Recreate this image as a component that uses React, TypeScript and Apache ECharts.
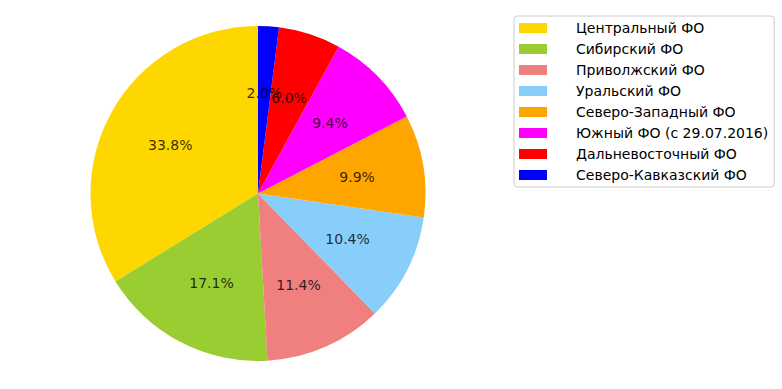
import React, { useEffect, useRef } from "react";
import * as echarts from "echarts";

const regions = [
  "Центральный ФО",
  "Сибирский ФО",
  "Приволжский ФО",
  "Уральский ФО",
  "Северо-Западный ФО",
  "Южный ФО (с 29.07.2016)",
  "Дальневосточный ФО",
  "Северо-Кавказский ФО",
];
const shares = [33.8, 17.1, 11.4, 10.4, 9.9, 9.4, 6.0, 2.0];
const colors = ["#FFD700", "#9ACD32", "#F08080", "#87CEFA", "#FFA500", "#FF00FF", "#FF0000", "#0000FF"];

const FONT = "DejaVu Sans";

export default function App() {
  const ref = useRef<HTMLDivElement>(null);
  useEffect(() => {
    if (!ref.current) return;
    const chart = echarts.init(ref.current, undefined, { renderer: "svg" });
    const data = regions.map((name, i) => ({ name, value: shares[i], itemStyle: { color: colors[i] } }));
    const center = [258, 193.5];
    const R = 167.5;
    const total = shares.reduce((a, b) => a + b, 0);
    let acc = 0;
    const labelPoints = shares.map((v) => {
      const mid = acc + v / 2;
      acc += v;
      return { value: [0.6, (mid / total) * 100], share: v };
    });
    chart.setOption({
      animation: false,
      backgroundColor: "#ffffff",
      polar: { center, radius: [0, R] },
      angleAxis: {
        type: "value",
        min: 0,
        max: 100,
        startAngle: 90,
        clockwise: false,
        show: false,
      },
      radiusAxis: { type: "value", min: 0, max: 1, show: false },
      legend: {
        orient: "vertical",
        left: 514,
        top: 16,
        padding: [5, 6, 5, 5],
        itemGap: 7,
        itemWidth: 28,
        itemHeight: 10,
        icon: "rect",
        borderColor: "#cccccc",
        borderWidth: 1,
        borderRadius: 3,
        selectedMode: false,
        textStyle: {
          fontFamily: FONT,
          fontSize: 14,
          lineHeight: 14,
          color: "#000000",
          padding: [0, 0, 0, 24],
        },
        data: regions.map((name, i) => ({ name, itemStyle: { color: colors[i] } })),
      },
      series: [
        {
          type: "pie",
          center,
          radius: [0, R],
          startAngle: 90,
          clockwise: false,
          data,
          label: { show: false },
          labelLine: { show: false },
          itemStyle: { borderWidth: 0 },
          emphasis: { disabled: true },
          silent: true,
        },
        {
          type: "scatter",
          coordinateSystem: "polar",
          symbolSize: 0,
          data: labelPoints,
          label: {
            show: true,
            position: "inside",
            fontFamily: FONT,
            fontSize: 14,
            color: "#000000",
            formatter: (p: any) => Number(p.data.share).toFixed(1) + "%",
          },
          emphasis: { disabled: true },
          silent: true,
          z: 5,
        },
      ],
    });
    return () => chart.dispose();
  }, []);
  return (
    <div
      ref={ref}
      style={{ position: "absolute", left: 0, top: 0, width: 782, height: 389, background: "#fff" }}
    />
  );
}
